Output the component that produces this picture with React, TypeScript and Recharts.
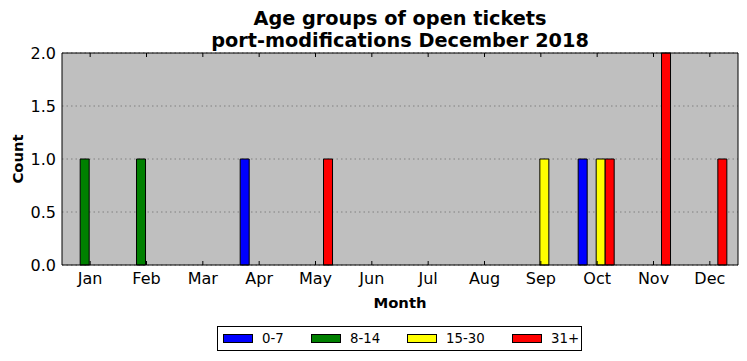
import React from 'react';
import { BarChart, Bar, XAxis, YAxis, CartesianGrid } from 'recharts';

const months = ['Jan', 'Feb', 'Mar', 'Apr', 'May', 'Jun', 'Jul', 'Aug', 'Sep', 'Oct', 'Nov', 'Dec'];
const age0to7 = [0, 0, 0, 1, 0, 0, 0, 0, 0, 1, 0, 0];
const age8to14 = [1, 1, 0, 0, 0, 0, 0, 0, 0, 0, 0, 0];
const age15to30 = [0, 0, 0, 0, 0, 0, 0, 0, 1, 1, 0, 0];
const age31plus = [0, 0, 0, 0, 1, 0, 0, 0, 0, 1, 2, 1];
const yTicks = [0, 0.5, 1, 1.5, 2];

const series = [
  { key: 'a', name: '0-7', color: '#0000ff' },
  { key: 'b', name: '8-14', color: '#008000' },
  { key: 'c', name: '15-30', color: '#ffff00' },
  { key: 'd', name: '31+', color: '#ff0000' },
];

const data = months.map((m, i) => ({
  month: m,
  a: age0to7[i],
  b: age8to14[i],
  c: age15to30[i],
  d: age31plus[i],
}));

const FONT = '"DejaVu Sans", sans-serif';

const MonthLabel = (props: any) => {
  const { x, y, payload } = props;
  return (
    <text x={x} y={y + 19} textAnchor="middle" fontFamily={FONT} fontSize={16} fill="#000">
      {payload.value}
    </text>
  );
};

const CountLabel = (props: any) => {
  const { x, y, payload } = props;
  return (
    <text x={x - 6} y={y + 6} textAnchor="end" fontFamily={FONT} fontSize={16} fill="#000">
      {Number(payload.value).toFixed(1)}
    </text>
  );
};

const NoLabel = () => <g />;

const tickStroke = { stroke: '#000', strokeWidth: 1 };

const LegendBox = () => {
  const lefts = [5, 93, 189, 294];
  return (
    <div
      style={{
        position: 'absolute',
        left: 217,
        top: 326,
        width: 365,
        height: 25,
        border: '1px solid #000',
        background: '#fff',
        boxSizing: 'border-box',
        fontFamily: FONT,
        fontSize: 13.3,
      }}
    >
      {series.map((s, i) => (
        <div key={s.key} style={{ position: 'absolute', left: lefts[i], top: 3, display: 'flex', alignItems: 'center', height: 17 }}>
          <span style={{ display: 'inline-block', width: 30, height: 9, background: s.color, border: '1px solid #000', boxSizing: 'border-box' }} />
          <span style={{ marginLeft: 9 }}>{s.name}</span>
        </div>
      ))}
    </div>
  );
};

export default function App() {
  return (
    <div style={{ position: 'absolute', left: 0, top: 0, width: 747, height: 361, background: '#fff' }}>
      <BarChart
        width={747}
        height={361}
        data={data}
        margin={{ top: 53, right: 9, left: 0, bottom: 66 }}
        barCategoryGap="16.3%"
        barGap={0}
      >
        <CartesianGrid vertical={false} fill="#bfbfbf" stroke="#808080" strokeDasharray="1.5 3" />
        <XAxis
          dataKey="month"
          height={30}
          axisLine={{ stroke: '#000' }}
          tickLine={false}
          tickSize={0}
          tickMargin={0}
          tick={<MonthLabel />}
          interval={0}
        />
        <XAxis
          xAxisId="bottomInner"
          dataKey="month"
          mirror
          axisLine={false}
          tickLine={tickStroke}
          tickSize={4}
          tick={<NoLabel />}
          interval={0}
        />
        <XAxis
          xAxisId="top"
          dataKey="month"
          orientation="top"
          mirror
          axisLine={{ stroke: '#000' }}
          tickLine={tickStroke}
          tickSize={4}
          tick={<NoLabel />}
          interval={0}
        />
        <YAxis
          width={62}
          domain={[0, 2]}
          ticks={yTicks}
          axisLine={{ stroke: '#000' }}
          tickLine={false}
          tickSize={0}
          tickMargin={0}
          tick={<CountLabel />}
        />
        <YAxis
          yAxisId="leftInner"
          mirror
          domain={[0, 2]}
          ticks={yTicks}
          axisLine={false}
          tickLine={tickStroke}
          tickSize={4}
          tick={<NoLabel />}
        />
        <YAxis
          yAxisId="right"
          orientation="right"
          mirror
          domain={[0, 2]}
          ticks={yTicks}
          axisLine={{ stroke: '#000' }}
          tickLine={tickStroke}
          tickSize={4}
          tick={<NoLabel />}
        />
        {series.map((s) => (
          <Bar
            key={s.key}
            dataKey={s.key}
            name={s.name}
            fill={s.color}
            stroke="#000"
            strokeWidth={1}
            isAnimationActive={false}
          />
        ))}
      </BarChart>
      <svg width={747} height={361} style={{ position: 'absolute', left: 0, top: 0, pointerEvents: 'none' }}>
        <text x={400} y={25} textAnchor="middle" fontFamily={FONT} fontWeight="bold" fontSize={19.3}>
          Age groups of open tickets
        </text>
        <text x={400} y={47} textAnchor="middle" fontFamily={FONT} fontWeight="bold" fontSize={19.3}>
          port-modifications December 2018
        </text>
        <text x={400} y={308} textAnchor="middle" fontFamily={FONT} fontWeight="bold" fontSize={14.8}>
          Month
        </text>
        <text
          x={23}
          y={159}
          textAnchor="middle"
          fontFamily={FONT}
          fontWeight="bold"
          fontSize={14.8}
          transform="rotate(-90 23 159)"
        >
          Count
        </text>
      </svg>
      <LegendBox />
    </div>
  );
}
